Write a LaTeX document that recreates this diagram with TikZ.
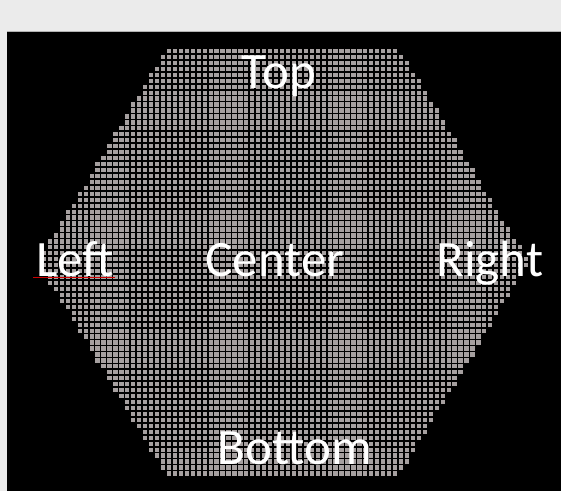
\documentclass[tikz,border=0pt]{standalone}
\usepackage{fontspec}
\setmainfont{Carlito}
\definecolor{bgpanel}{HTML}{EBEBEB}
\definecolor{cellgray}{HTML}{A6A0A0}
\definecolor{gridc}{HTML}{000000}
\begin{document}
\begin{tikzpicture}[x=1pt,y=-1pt,
  lbl/.style={text=white,font=\fontsize{51}{56}\selectfont,inner sep=0pt,anchor=base},
  gridline/.style={draw=gridc,line width=1.7pt}]
\useasboundingbox (0,0) rectangle (561,491);
\fill[bgpanel] (0,0) rectangle (561,491);
\fill[black] (7,31) rectangle (561,491);
\draw[gray!60,line width=1pt] (7,31) -- (561,31);
\foreach \i in {0,...,71}{
  \pgfmathsetmacro\yt{48+5.95*\i}
  \pgfmathsetmacro\yb{\yt+5.95}
  \pgfmathsetmacro\dy{abs(\yt+2.975-262)}
  \pgfmathsetmacro\w{246-0.6075*\dy}
  \pgfmathsetmacro\jl{round((283-\w-166)/5.95)}
  \pgfmathsetmacro\jr{round((283+\w-166)/5.95)}
  \fill[cellgray] ({166+5.95*\jl},\yt) rectangle ({166+5.95*\jr},\yb);
}
\foreach \j in {-22,...,62}{
  \draw[gridline] ({166+5.95*\j},46) -- ({166+5.95*\j},480);
}
\foreach \i in {0,...,72}{
  \draw[gridline] (30,{48+5.95*\i}) -- (540,{48+5.95*\i});
}
\node[lbl] (top) at (279,88) {Top};
\node[lbl] (left) at (75,276) {Left};
\node[lbl] (center) at (275,276) {Center};
\node[lbl] (right) at (490,276) {Right};
\node[lbl] (bottom) at (295,464) {Bottom};
\draw[red!80!black,line width=0.9pt] (33,277.5) -- (115,277.5);
\end{tikzpicture}
\end{document}
